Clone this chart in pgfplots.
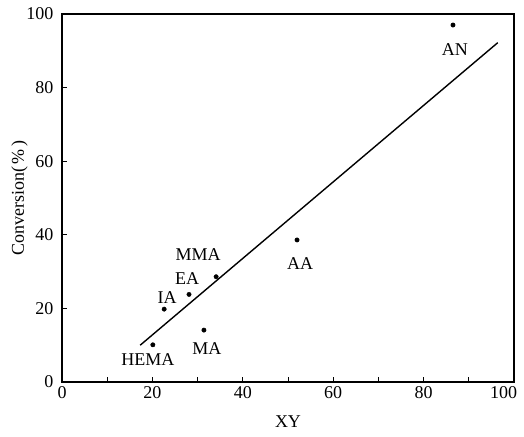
\documentclass[border=0pt]{standalone}
\usepackage{pgfplots}
\pgfplotsset{compat=1.18}
\usepackage{fontspec}
\setmainfont{Liberation Serif}
\begin{document}
\begin{tikzpicture}
\begin{axis}[
  scale only axis,
  width=452pt, height=368pt,
  xmin=0, xmax=100, ymin=0, ymax=100,
  xtick={0,20,...,100}, ytick={0,20,...,100},
  xticklabels={0,20,40,60,80,{\hbox to 0pt{\hss 100\kern-3pt}}},
  minor xtick={10,30,50,70,90},
  tick align=inside,
  xtick pos=bottom, ytick pos=left,
  major tick length=5pt, minor tick length=5pt,
  axis line style={line width=1.8pt},
  every tick/.style={black, line width=1pt},
  /pgf/number format/assume math mode=true,
  ticklabel style={font=\fontsize{18}{20}\selectfont},
  xticklabel style={yshift=-1pt},
  yticklabel style={xshift=-5pt},
  xlabel={XY}, ylabel={Conversion(\,\%\,)},
  label style={font=\fontsize{18}{20}\selectfont},
  xlabel style={yshift=-10pt},
  ylabel style={yshift=-8pt},
  clip=false,
  nodes near coords,
  point meta=explicit symbolic,
]
\addplot[only marks, mark=*, mark size=2.2pt, black,
  visualization depends on={value \thisrow{ax} \as \ax},
  visualization depends on={value \thisrow{ay} \as \ay},
  nodes near coords style={font=\fontsize{18}{20}\selectfont, anchor=center, xshift=\ax pt, yshift=\ay pt}]
  table[meta=label] {
  x    y    label ax  ay
  86.5 97.0 AN    2   -25
  52.0 38.6 AA    3   -24
  34.1 28.6 MMA   -18 22
  28.1 23.8 EA    -2  16
  22.6 19.8 IA    3   12
  20.1 10.1 HEMA  -5  -15
  31.4 14.1 MA    3   -18
  };
\addplot[black, line width=1.4pt, no marks, nodes near coords={}] coordinates {(17.3,10.0) (96.4,92.2)};
\end{axis}
\path (current axis.south west) ++(-62pt,-54pt);
\path (current axis.north east) ++(10pt,14pt);
\end{tikzpicture}
\end{document}
